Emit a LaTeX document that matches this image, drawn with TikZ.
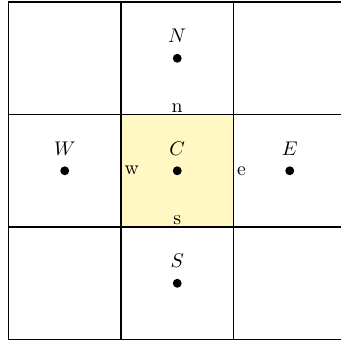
\documentclass[tikz,border=0pt]{standalone}
\definecolor{cellfill}{RGB}{255,248,194}
\tikzset{
  gridline/.style={line width=0.6pt, black},
  pt/.style={circle, fill=black, inner sep=0pt, minimum size=4.5pt},
  ptlabel/.style={inner sep=0pt},
  facelabel/.style={inner sep=0.8pt},
}
\begin{document}
\begin{tikzpicture}
\useasboundingbox (-0.151,-0.044) rectangle (5.911,6.036);
\fill[cellfill] (2,2) rectangle (4,4);
\draw[gridline] (0,0) grid[step=2cm] (6,6);
\node[pt] (N) at (3,5) {};
\node[pt] (C) at (3,3) {};
\node[pt] (S) at (3,1) {};
\node[pt] (W) at (1,3) {};
\node[pt] (E) at (5,3) {};
\node[ptlabel] (lN) at (3,5.4) {$N$};
\node[ptlabel] (lC) at (3,3.4) {$C$};
\node[ptlabel] (lS) at (3,1.4) {$S$};
\node[ptlabel] (lW) at (1,3.4) {$W$};
\node[ptlabel] (lE) at (5,3.4) {$E$};
\node[facelabel, anchor=south] (fn) at (3,4) {n};
\node[facelabel, anchor=south] (fs) at (3,2) {s};
\node[facelabel, anchor=west, inner xsep=1.6pt] (fw) at (2,3) {w};
\node[facelabel, anchor=west, inner xsep=1.6pt] (fe) at (4,3) {e};
\end{tikzpicture}
\end{document}
